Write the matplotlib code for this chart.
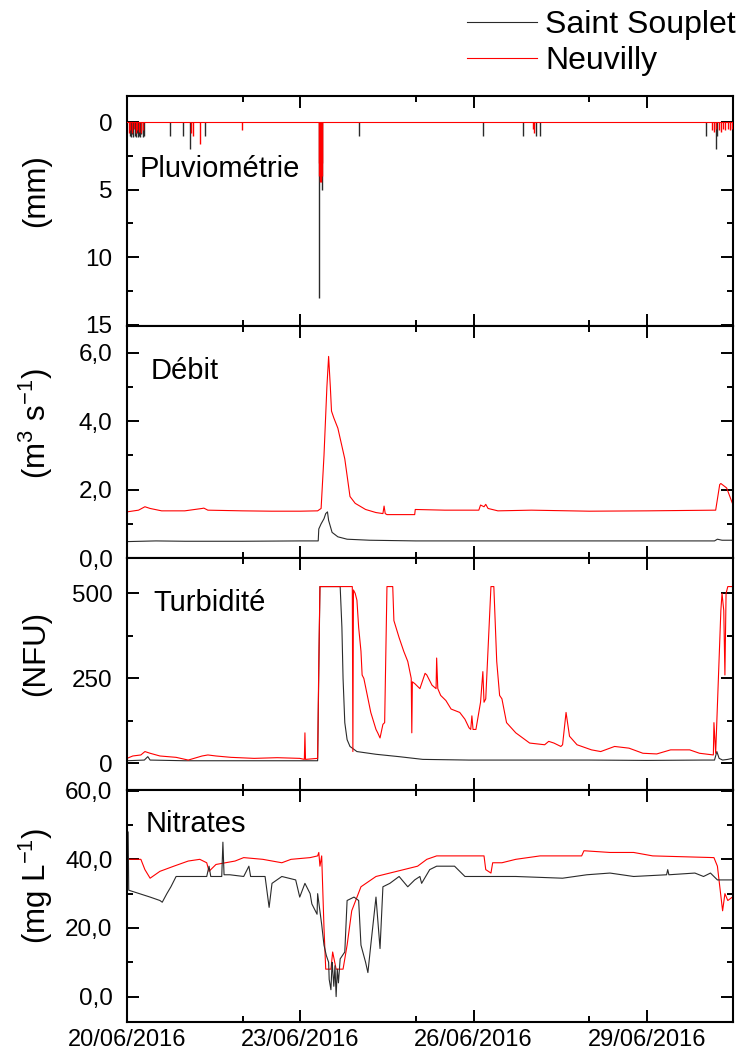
import numpy as np
import matplotlib
matplotlib.use('Agg')
import matplotlib.pyplot as plt
from matplotlib.ticker import FixedLocator, FixedFormatter

plt.rcParams['font.family'] = ['Liberation Sans', 'DejaVu Sans']
plt.rcParams['mathtext.fontset'] = 'custom'
plt.rcParams['mathtext.rm'] = 'Liberation Sans'
plt.rcParams['mathtext.it'] = 'Liberation Sans:italic'

# ---------------- data (time in days since 20/06/2016 00:00) ----------------
series_names = ['Saint Souplet', 'Neuvilly']
date_ticks = [0, 3, 6, 9]
date_minor = [2, 5, 8]
date_labels = ['20/06/2016', '23/06/2016', '26/06/2016', '29/06/2016']
x_max = 10.49

# Pluviométrie (mm)
rain_ss_t = [0.05, 0.07, 0.09, 0.11, 0.13, 0.15, 0.17, 0.19, 0.21, 0.23, 0.25, 0.27, 0.29,
             0.74, 0.97, 1.09, 1.35, 3.32, 3.37, 4.01, 6.16, 6.85, 7.08, 7.15,
             10.02, 10.19, 10.22]
rain_ss_v = [1.0, 1.1, 0.9, 1.1, 1.0, 1.1, 0.8, 1.1, 1.0, 1.1, 0.9, 1.1, 1.0,
             1.0, 1.0, 2.0, 1.0, 13.0, 5.0, 1.0, 1.0, 1.0, 1.0, 1.0,
             1.0, 2.0, 1.0]
rain_nv_t = [0.03, 0.06, 0.09, 0.12, 0.15, 0.18, 0.21, 0.24, 0.27,
             1.11, 1.14, 1.26, 1.99,
             3.32, 3.33, 3.34, 3.35, 3.36, 3.37, 3.38,
             7.02, 7.05,
             10.12, 10.16, 10.20, 10.24, 10.28, 10.32, 10.36, 10.40, 10.44, 10.47]
rain_nv_v = [0.8, 0.6, 0.8, 0.5, 0.8, 0.6, 0.7, 0.8, 0.6,
             0.8, 1.0, 1.6, 0.6,
             3.0, 4.0, 4.4, 4.2, 4.4, 4.0, 3.0,
             0.5, 0.8,
             0.6, 0.7, 0.5, 0.6, 0.7, 0.5, 0.6, 0.5, 0.6, 0.5]

# Débit (m3/s)
q_nv_t = [0.00, 0.20, 0.31, 0.40, 0.60, 1.00, 1.30, 1.33, 1.40, 2.00, 2.50, 3.00, 3.30,
          3.36, 3.41, 3.46, 3.49, 3.52, 3.54, 3.58, 3.65, 3.77, 3.86, 3.95, 4.13, 4.31,
          4.43, 4.45, 4.47, 4.50, 4.98, 4.99, 5.50, 6.09, 6.12, 6.18, 6.21, 6.25, 6.42,
          7.00, 8.00, 9.00, 10.19, 10.26, 10.28, 10.38, 10.48]
q_nv_v = [1.35, 1.40, 1.50, 1.45, 1.38, 1.38, 1.45, 1.46, 1.40, 1.38, 1.37, 1.37, 1.38,
          1.45, 3.00, 5.00, 5.90, 5.00, 4.30, 4.10, 3.80, 2.90, 1.80, 1.60, 1.42, 1.33,
          1.30, 1.52, 1.30, 1.27, 1.27, 1.42, 1.40, 1.40, 1.55, 1.50, 1.57, 1.45, 1.38,
          1.40, 1.37, 1.38, 1.40, 2.15, 2.18, 2.05, 1.60]
q_ss_t = [0.00, 0.50, 1.00, 2.00, 3.00, 3.31, 3.32, 3.36, 3.41, 3.44, 3.47, 3.49, 3.55,
          3.65, 3.81, 4.20, 5.00, 7.00, 9.00, 10.17, 10.22, 10.30, 10.48]
q_ss_v = [0.48, 0.50, 0.49, 0.49, 0.50, 0.50, 0.85, 1.00, 1.15, 1.30, 1.35, 1.10, 0.75,
          0.62, 0.55, 0.52, 0.50, 0.50, 0.50, 0.50, 0.55, 0.52, 0.52]

# Turbidité (NFU)
turb_nv_t = [0.00, 0.10, 0.24, 0.31, 0.40, 0.57, 0.85, 1.06, 1.30, 1.40, 1.54, 1.80, 2.20,
             2.60, 2.99, 3.07, 3.08, 3.09, 3.30, 3.32, 3.34, 3.90, 3.91, 3.92, 3.95, 3.98,
             4.01, 4.05, 4.07, 4.10, 4.22, 4.31, 4.34, 4.38, 4.43, 4.46, 4.50, 4.60, 4.62,
             4.71, 4.79, 4.86, 4.92, 4.93, 4.94, 4.98, 5.07, 5.16, 5.19, 5.28, 5.35, 5.36,
             5.38, 5.43, 5.52, 5.61, 5.76, 5.85, 5.92, 5.95, 5.97, 5.99, 6.04, 6.12, 6.16,
             6.18, 6.21, 6.30, 6.35, 6.40, 6.45, 6.49, 6.57, 6.73, 6.97, 7.23, 7.30, 7.39,
             7.51, 7.54, 7.60, 7.66, 7.79, 8.04, 8.20, 8.44, 8.69, 8.93, 9.17, 9.41, 9.74,
             9.91, 10.15, 10.16, 10.19, 10.28, 10.30, 10.33, 10.35, 10.37, 10.40, 10.48]
turb_nv_v = [15, 22, 25, 35, 30, 22, 18, 10, 22, 25, 22, 18, 15,
             17, 15, 12, 90, 12, 15, 300, 520, 520, 35, 510, 500, 480,
             400, 330, 260, 250, 150, 100, 90, 75, 115, 120, 520, 520, 420,
             370, 330, 300, 250, 90, 240, 235, 220, 265, 260, 230, 220, 310,
             220, 200, 185, 160, 150, 130, 105, 100, 140, 100, 100, 180, 270,
             180, 190, 520, 520, 300, 200, 190, 120, 90, 60, 55, 65, 60,
             50, 55, 150, 80, 55, 40, 35, 50, 45, 30, 28, 40, 40,
             30, 25, 120, 30, 450, 500, 450, 260, 500, 520, 520]
turb_ss_t = [0.00, 0.30, 0.36, 0.40, 1.00, 2.00, 3.00, 3.30, 3.34, 3.69, 3.72, 3.74, 3.77,
             3.81, 3.86, 3.98, 4.31, 4.71, 5.12, 5.92, 7.00, 8.00, 9.00, 9.98, 10.17,
             10.21, 10.25, 10.31, 10.40, 10.48]
turb_ss_v = [8, 10, 20, 10, 8, 8, 8, 8, 520, 520, 400, 250, 120,
             70, 50, 35, 27, 20, 12, 10, 10, 10, 9, 10, 10,
             35, 15, 10, 12, 15]

# Nitrates (mg/L)
no3_nv_t = [0.00, 0.24, 0.31, 0.40, 0.57, 0.81, 1.06, 1.26, 1.38, 1.42, 1.54, 1.87, 2.02,
            2.35, 2.68, 2.84, 3.17, 3.30, 3.32, 3.34, 3.37, 3.41, 3.44, 3.53, 3.56, 3.62,
            3.74, 3.81, 3.89, 4.05, 4.31, 4.55, 4.79, 5.03, 5.19, 5.36, 5.52, 6.18, 6.21,
            6.30, 6.33, 6.49, 6.73, 7.15, 7.87, 7.91, 8.36, 8.77, 9.10, 10.16, 10.22,
            10.31, 10.35, 10.40, 10.48]
no3_nv_v = [40, 40, 37, 34.5, 36.5, 38, 39.5, 40, 39, 36.5, 38.5, 39.5, 40.5,
            40, 39, 40, 40.5, 41, 42, 38, 41, 20, 8, 8, 13, 8,
            8, 15, 25, 32, 35, 36, 37, 38, 40, 41, 41, 41, 37,
            36, 39, 39, 40, 41, 41, 42.5, 42, 42, 41, 40.5, 38,
            25, 30, 28, 29]
no3_ss_t = [0.00, 0.02, 0.03, 0.40, 0.57, 0.61, 0.69, 0.76, 0.85, 1.38, 1.42, 1.45, 1.64,
            1.66, 1.68, 1.78, 2.02, 2.11, 2.14, 2.39, 2.46, 2.51, 2.68, 2.92, 2.99, 3.08,
            3.17, 3.20, 3.29, 3.30, 3.37, 3.41, 3.45, 3.49, 3.50, 3.53, 3.55, 3.56, 3.58,
            3.60, 3.62, 3.64, 3.66, 3.69, 3.77, 3.81, 3.93, 4.01, 4.05, 4.13, 4.17, 4.22,
            4.31, 4.38, 4.43, 4.55, 4.71, 4.86, 4.98, 5.07, 5.10, 5.24, 5.36, 5.67, 5.85,
            6.73, 7.54, 7.96, 8.36, 8.77, 9.34, 9.36, 9.38, 9.83, 9.98, 10.10, 10.22, 10.48]
no3_ss_v = [30, 48, 31, 29, 28, 27.5, 30, 32, 35, 35, 38, 35, 35,
            45, 35.5, 35.5, 35, 38, 35, 35, 26, 33, 35, 34, 29, 33,
            30, 27, 24, 30, 21, 15, 12, 10, 5, 2, 10, 8, 3,
            9, 0, 8, 4, 11, 13, 28, 29, 28, 15, 10, 7, 15,
            29, 14, 32, 33, 35, 32, 34, 35, 33, 37, 38, 38, 35,
            35, 34.5, 35.5, 36, 35, 35.5, 37, 35.5, 36, 35, 36, 34, 34]

panel_names = ['Pluviométrie', 'Débit', 'Turbidité', 'Nitrates']
y_labels = ['(mm)', '(m$^{3}$ s$^{-1}$)', '(NFU)', '(mg L$^{-1}$)']
y_major = [[0, 5, 10, 15], [0, 2, 4, 6], [0, 250, 500], [0, 20, 40, 60]]
y_major_labels = [['0', '5', '10', '15'], ['0,0', '2,0', '4,0', '6,0'],
                  ['0', '250', '500'], ['0,0', '20,0', '40,0', '60,0']]
y_minor = [[2.5, 7.5, 12.5], [1, 3, 5], [125, 375], [10, 30, 50]]
y_lims = [(15.1, -1.95), (0, 6.79), (-78, 604), (-7.4, 60.2)]

c_ss = '#2a2a2a'
c_nv = '#ff0000'

# ---------------- figure ----------------
W, H = 736, 1058
fig = plt.figure(figsize=(W / 100, H / 100), dpi=100)

def fx(px):
    return px / W

def fy(py):
    return 1 - py / H

left, right = 127, 733
panels = [(96, 326), (326, 558), (558, 790), (790, 1022)]
axes = []
for top, bot in panels:
    ax = fig.add_axes([fx(left), fy(bot), (right - left) / W, (bot - top) / H])
    axes.append(ax)

lw = 0.8
# Pluviométrie
ax = axes[0]
ax.vlines(rain_ss_t, 0, rain_ss_v, color=c_ss, lw=1.0, zorder=2)
ax.vlines(rain_nv_t, 0, rain_nv_v, color=c_nv, lw=1.0, zorder=3)
ax.axhline(0, color=c_nv, lw=lw, zorder=3)
# Débit
l_ss, = axes[1].plot(q_ss_t, q_ss_v, color=c_ss, lw=lw, label=series_names[0])
l_nv, = axes[1].plot(q_nv_t, q_nv_v, color=c_nv, lw=lw, label=series_names[1])
# Turbidité
axes[2].plot(turb_ss_t, turb_ss_v, color=c_ss, lw=lw)
axes[2].plot(turb_nv_t, turb_nv_v, color=c_nv, lw=lw)
# Nitrates
axes[3].plot(no3_nv_t, no3_nv_v, color=c_nv, lw=lw)
axes[3].plot(no3_ss_t, no3_ss_v, color=c_ss, lw=lw)

label_pos = [(140, 177), (151, 379), (153, 611), (146, 832)]
ylab_pos = [191, 424, 653, 886]

for i, ax in enumerate(axes):
    ax.set_xlim(0, x_max)
    ax.set_ylim(*y_lims[i])
    ax.xaxis.set_major_locator(FixedLocator(date_ticks))
    ax.xaxis.set_minor_locator(FixedLocator(date_minor))
    ax.yaxis.set_major_locator(FixedLocator(y_major[i]))
    ax.yaxis.set_major_formatter(FixedFormatter(y_major_labels[i]))
    ax.yaxis.set_minor_locator(FixedLocator(y_minor[i]))
    ax.tick_params(which='both', direction='in', top=True, right=True, width=1.4,
                   labelsize=17.5, pad=10.5)
    ax.tick_params(which='major', length=8.5)
    ax.tick_params(which='minor', length=4.5)
    for s in ax.spines.values():
        s.set_linewidth(1.5)
    if i < 3:
        ax.tick_params(labelbottom=False)
    else:
        ax.set_xticklabels(date_labels)
        ax.tick_params(axis='x', labelsize=17, pad=5)
    lx, ly = label_pos[i]
    fig.text(fx(lx), fy(ly), panel_names[i], fontsize=21, ha='left', va='baseline')
    fig.text(fx(36), fy(ylab_pos[i]), y_labels[i], rotation=90, fontsize=22.5,
             ha='center', va='center')

fig.legend(handles=[l_ss, l_nv], loc='upper left', bbox_to_anchor=(fx(467), fy(10)),
           frameon=False, fontsize=23, handlelength=2.2, handletextpad=0.25,
           labelspacing=0.2, borderpad=0, borderaxespad=0)

fig.savefig('out.png', dpi=100)
